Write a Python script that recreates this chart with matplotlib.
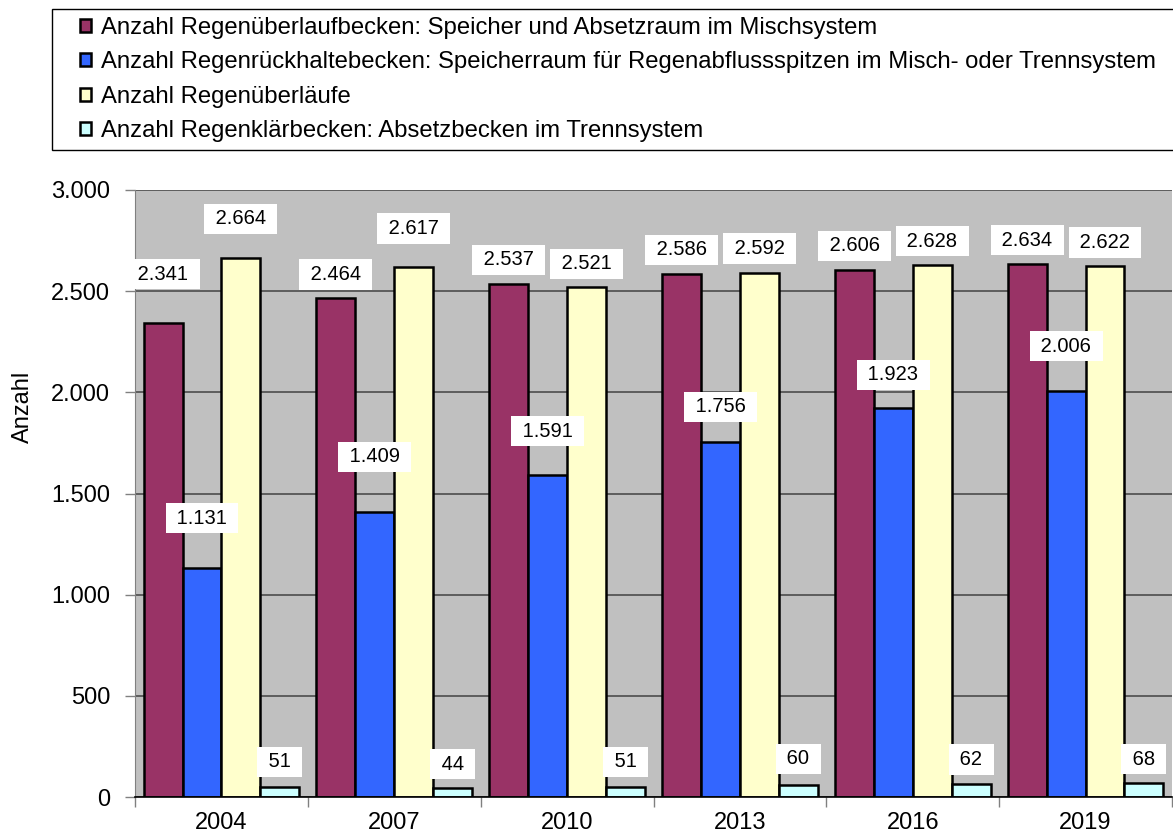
import matplotlib.pyplot as plt
import numpy as np
from matplotlib.patches import Patch, Rectangle
from matplotlib.ticker import FuncFormatter, MultipleLocator

plt.rcParams['font.family'] = ['Liberation Sans', 'DejaVu Sans']

years = ['2004', '2007', '2010', '2013', '2016', '2019']
rueb = [2341, 2464, 2537, 2586, 2606, 2634]
rrb = [1131, 1409, 1591, 1756, 1923, 2006]
rue = [2664, 2617, 2521, 2592, 2628, 2622]
rkb = [51, 44, 51, 60, 62, 68]

series_names = [
    'Anzahl Regenüberlaufbecken: Speicher und Absetzraum im Mischsystem',
    'Anzahl Regenrückhaltebecken: Speicherraum für Regenabflussspitzen im Misch- oder Trennsystem',
    'Anzahl Regenüberläufe',
    'Anzahl Regenklärbecken: Absetzbecken im Trennsystem',
]
colors = ['#993366', '#3366FF', '#FFFFCC', '#CCFFFF']

# vertical label offsets above bar tops, in pixels (labels were moved by hand in the original)
label_offsets = [
    [49, 24, 24, 24, 24, 24],
    [50, 55, 44, 35, 33, 45],
    [39, 39, 23, 24, 24, 24],
    [25, 24, 25, 26, 25, 24],
]

W, H = 1173, 836
fig = plt.figure(figsize=(W / 100, H / 100), dpi=100)
ax = fig.add_axes([135 / W, 1 - 797 / H, (1172 - 135) / W, 607 / H])
ax.set_facecolor('#C0C0C0')

x = np.arange(len(years)) + 0.5
bw = 0.225
all_vals = [rueb, rrb, rue, rkb]
for i, (vals, c) in enumerate(zip(all_vals, colors)):
    xs = x + (i - 1.5) * bw
    ax.bar(xs, vals, width=bw, color=c, edgecolor='black', linewidth=1.8, zorder=2)
    for xi, v, off in zip(xs, vals, label_offsets[i]):
        ax.annotate(' ' + f'{v:,}'.replace(',', '.') + ' ', xy=(xi, v), xytext=(0, off),
                    textcoords='offset pixels', ha='center', va='center', fontsize=14.5,
                    bbox=dict(boxstyle='square,pad=0.28', fc='white', ec='none'), zorder=4)

ax.set_xlim(0, len(years))
ax.set_ylim(0, 3000)
ax.yaxis.set_major_locator(MultipleLocator(500))
ax.yaxis.set_major_formatter(FuncFormatter(lambda v, p: f'{int(v):,}'.replace(',', '.')))
ax.set_xticks(x)
ax.set_xticklabels(years)
ax.set_xticks(np.arange(len(years) + 1), minor=True)
ax.tick_params(axis='x', which='major', length=0, labelsize=17, pad=11)
ax.tick_params(axis='x', which='minor', length=7, color='#808080', width=1)
ax.tick_params(axis='y', length=7, color='#808080', width=1, labelsize=17, pad=11)
ax.grid(axis='y', color='#555555', linewidth=1.3, zorder=1)
ax.set_axisbelow(True)
for s in ['top', 'right']:
    ax.spines[s].set_visible(False)
ax.spines['left'].set_color('#808080')
ax.spines['bottom'].set_color('black')
ax.spines['bottom'].set_linewidth(1.2)
ax.set_ylabel('Anzahl', fontsize=17)
ax.yaxis.set_label_coords((34 - 135) / 1037, (797 - 407) / 607)

# legend box
fig.patches.append(Rectangle((52 / W, 1 - 150 / H), (W + 5 - 52) / W, 141 / H,
                             transform=fig.transFigure, fc='white', ec='black', lw=1.0))
handles = [Patch(facecolor=c, edgecolor='black', linewidth=1.8) for c in colors]
leg = fig.legend(handles, series_names, loc='upper left',
                 bbox_to_anchor=(80 / W, 1 - 17 / H), frameon=False,
                 fontsize=17.2, handlelength=0.45, handleheight=0.45, handletextpad=0.42,
                 labelspacing=0.52, borderpad=0, borderaxespad=0)

fig.savefig('out.png', dpi=100)
